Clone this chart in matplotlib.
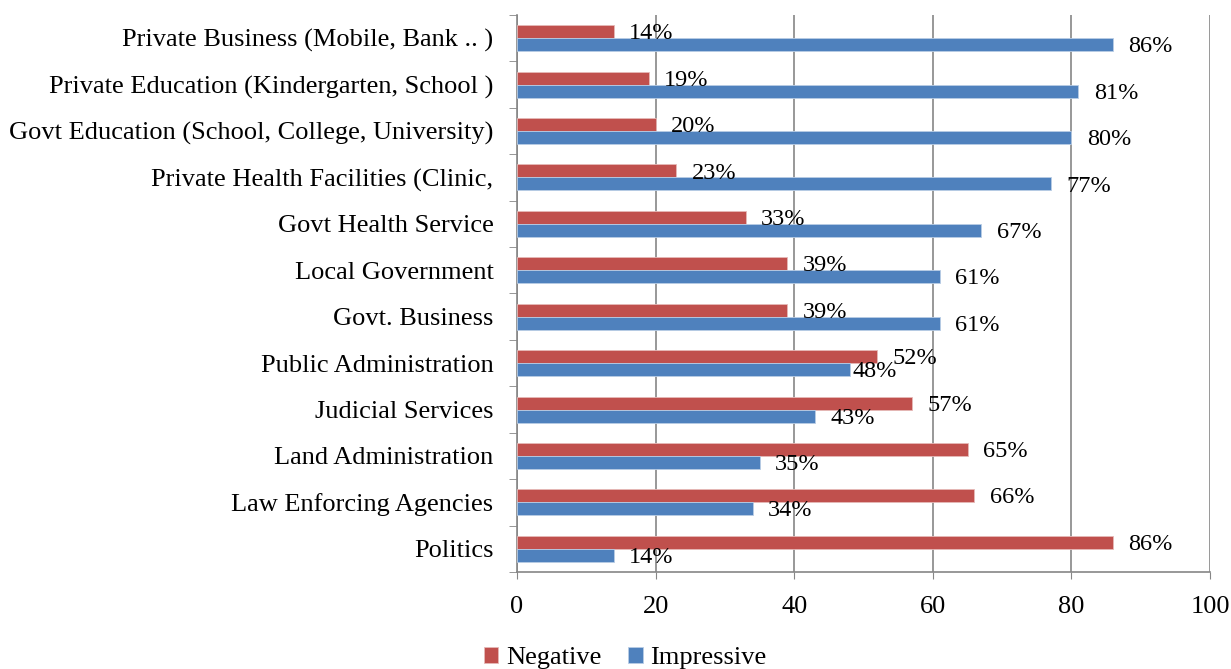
import numpy as np
import matplotlib.pyplot as plt

CATEGORIES = [
    "Private Business (Mobile, Bank .. )",
    "Private Education (Kindergarten, School )",
    "Govt Education (School, College, University)",
    "Private Health Facilities (Clinic,",
    "Govt Health Service",
    "Local Government",
    "Govt. Business",
    "Public Administration",
    "Judicial Services",
    "Land Administration",
    "Law Enforcing Agencies",
    "Politics",
]
NEGATIVE = [14, 19, 20, 23, 33, 39, 39, 52, 57, 65, 66, 86]
IMPRESSIVE = [86, 81, 80, 77, 67, 61, 61, 48, 43, 35, 34, 14]

RED = "#C0504D"
BLUE = "#4F81BD"
GRID = "#868686"

plt.rcParams["font.family"] = ["Liberation Serif", "DejaVu Serif"]

fig = plt.figure(figsize=(12.31, 6.69), dpi=100)
ax = fig.add_axes([0.42, 0.145, 0.563, 0.8326])

n = len(CATEGORIES)
y = np.arange(n)[::-1].astype(float)
h = 0.28

neg_bars = ax.barh(y + h / 2, NEGATIVE, height=h, color=RED,
                   edgecolor="#E6B9B8", linewidth=0.6, label="Negative", zorder=3)
imp_bars = ax.barh(y - h / 2, IMPRESSIVE, height=h, color=BLUE,
                   edgecolor="#B9CDE5", linewidth=0.6, label="Impressive", zorder=3)

# value labels just right of each bar end
for bars, vals in ((neg_bars, NEGATIVE), (imp_bars, IMPRESSIVE)):
    for bar, v in zip(bars, vals):
        cy = bar.get_y() + bar.get_height() / 2
        dx = 11
        if bars is imp_bars and v == 48:
            dx = 2
        ax.annotate(f"{v}%", xy=(v, cy), xytext=(dx, -1.5),
                    textcoords="offset points", ha="left", va="center",
                    fontsize=17.5, color="black", zorder=4)

ax.set_xlim(0, 100)
ax.set_ylim(-0.5, n - 0.5)
ax.set_xticks(np.arange(0, 101, 20))
ax.tick_params(axis="x", labelsize=19, length=5, color=GRID, pad=12)

ax.set_yticks(y)
ax.set_yticklabels(CATEGORIES, fontsize=19)
ax.tick_params(axis="y", which="major", length=0, pad=17)
ax.set_yticks(np.arange(-0.5, n, 1.0), minor=True)
ax.tick_params(axis="y", which="minor", length=6, color=GRID)

ax.grid(axis="x", color=GRID, linewidth=1.2, zorder=0)
ax.set_axisbelow(True)
for side in ("top", "right"):
    ax.spines[side].set_visible(False)
for side in ("left", "bottom"):
    ax.spines[side].set_color(GRID)
    ax.spines[side].set_linewidth(1.2)

fig.legend(handles=[neg_bars, imp_bars], labels=["Negative", "Impressive"],
           loc="lower center", bbox_to_anchor=(0.508, -0.036), ncol=2,
           frameon=False, fontsize=19, handlelength=0.55, handleheight=0.55,
           handletextpad=0.3, columnspacing=1.0)

fig.savefig("out.png", dpi=100)
